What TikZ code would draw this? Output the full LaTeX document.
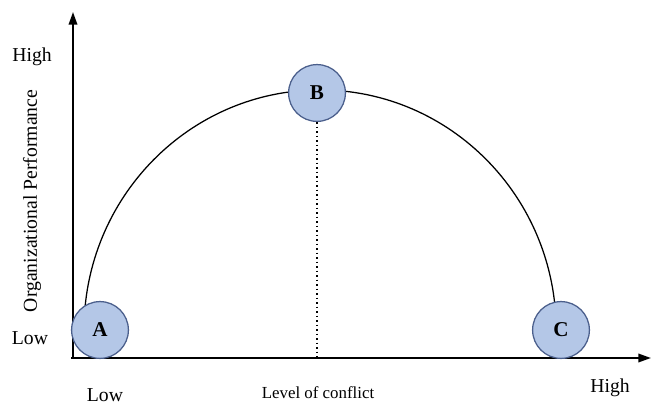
\documentclass[tikz,border=0pt]{standalone}
\usepackage{fontspec}
\setmainfont{Liberation Serif}
\usetikzlibrary{arrows.meta,positioning}
\definecolor{ptfill}{RGB}{180,199,231}
\definecolor{ptdraw}{RGB}{75,95,140}
\begin{document}
\begin{tikzpicture}[x=0.025cm, y=0.025cm,
  every node/.style={font=\fontsize{14}{16}\selectfont, align=center},
  axis/.style={line width=1.4pt, -{Triangle[length=9pt, width=6pt]}},
  point/.style={circle, draw=ptdraw, fill=ptfill, line width=0.9pt, minimum size=1.42cm, inner sep=0pt, font=\fontsize{15}{17}\selectfont\bfseries}]
  \useasboundingbox (0,0) rectangle (651,406);

  % axes
  \coordinate (origin) at (73,48);
  \coordinate (ytop) at (73,394);
  \coordinate (xend) at (651,48);
  \draw[axis] (71,48) -- (xend);
  \draw[axis] (origin) -- (ytop);

  % curve
  \draw[line width=0.9pt] (84,76) arc (180:0:5.9cm and 6cm);

  % points
  \node[point] (A) at (100,76) {A};
  \node[point] (B) at (317,313) {B};
  \node[point] (C) at (561,76) {C};
  \draw[line width=1.2pt, dotted] (B.south) -- (B.south |- origin);

  % labels
  \node (yhigh) at (32,349) {High};
  \node (ylow) at (30,68) {Low};
  \node (xlow) at (105,11) {Low};
  \node[font=\fontsize{12}{14}\selectfont] (xlabel) at (318,13) {Level of conflict};
  \node (xhigh) at (610,18) {High};
  \node[rotate=90] (ylabel) at (32,205) {Organizational Performance};
\end{tikzpicture}
\end{document}
